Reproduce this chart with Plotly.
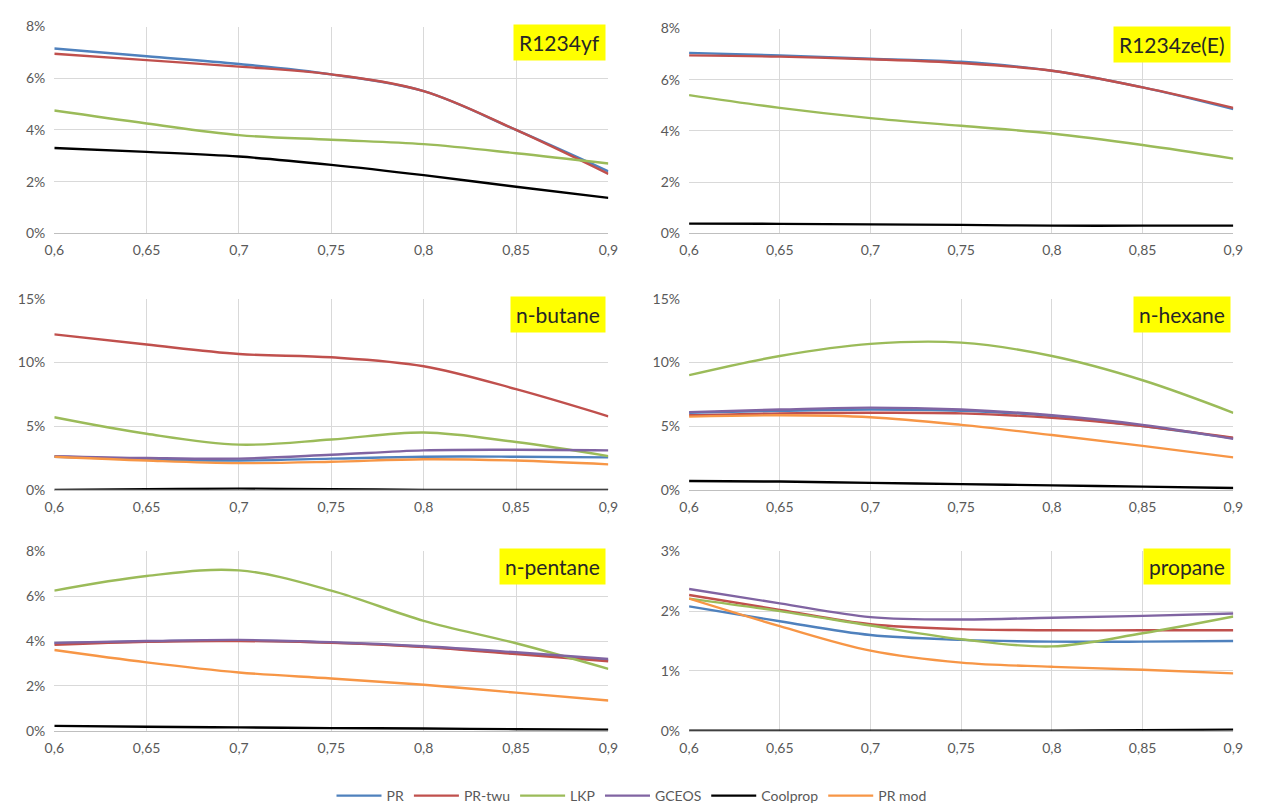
import plotly.graph_objects as go

x_vals = [0.6, 0.65, 0.7, 0.75, 0.8, 0.85, 0.9]
x_ticktext = ["0,6", "0,65", "0,7", "0,75", "0,8", "0,85", "0,9"]

series_names = ["PR", "PR-twu", "LKP", "GCEOS", "Coolprop", "PR mod"]
series_colors = ["#4F81BD", "#C0504D", "#9BBB59", "#8064A2", "#000000", "#F79646"]

# values in %
r1234yf_PR = [7.15, 6.85, 6.55, 6.15, 5.5, 4.0, 2.4]
r1234yf_PRtwu = [6.95, 6.7, 6.45, 6.15, 5.5, 4.0, 2.3]
r1234yf_LKP = [4.75, 4.25, 3.8, 3.62, 3.45, 3.1, 2.7]
r1234yf_Coolprop = [3.3, 3.15, 2.97, 2.65, 2.25, 1.8, 1.37]

r1234ze_PR = [7.05, 6.95, 6.82, 6.7, 6.35, 5.7, 4.85]
r1234ze_PRtwu = [6.95, 6.9, 6.8, 6.65, 6.35, 5.7, 4.9]
r1234ze_LKP = [5.4, 4.9, 4.5, 4.2, 3.9, 3.45, 2.92]
r1234ze_Coolprop = [0.38, 0.37, 0.35, 0.33, 0.3, 0.3, 0.3]

butane_PR = [2.6, 2.4, 2.3, 2.45, 2.6, 2.6, 2.55]
butane_PRtwu = [12.2, 11.4, 10.66, 10.4, 9.7, 7.9, 5.77]
butane_LKP = [5.7, 4.4, 3.55, 3.95, 4.5, 3.75, 2.65]
butane_GCEOS = [2.65, 2.5, 2.45, 2.75, 3.1, 3.15, 3.1]
butane_Coolprop = [0.0, 0.05, 0.1, 0.05, 0.0, 0.0, 0.0]
butane_PRmod = [2.6, 2.3, 2.1, 2.2, 2.4, 2.3, 2.0]

hexane_PR = [6.05, 6.2, 6.3, 6.2, 5.8, 5.0, 4.05]
hexane_PRtwu = [5.85, 6.0, 6.05, 6.0, 5.65, 5.0, 4.1]
hexane_LKP = [9.0, 10.5, 11.45, 11.55, 10.5, 8.6, 6.05]
hexane_GCEOS = [6.1, 6.3, 6.45, 6.3, 5.85, 5.1, 4.0]
hexane_Coolprop = [0.7, 0.65, 0.55, 0.45, 0.35, 0.25, 0.15]
hexane_PRmod = [5.75, 5.85, 5.7, 5.1, 4.3, 3.45, 2.55]

pentane_PR = [3.9, 3.98, 4.02, 3.93, 3.75, 3.45, 3.15]
pentane_PRtwu = [3.83, 3.97, 4.0, 3.92, 3.73, 3.42, 3.1]
pentane_LKP = [6.25, 6.9, 7.15, 6.25, 4.9, 3.9, 2.76]
pentane_GCEOS = [3.92, 4.0, 4.05, 3.95, 3.77, 3.5, 3.2]
pentane_Coolprop = [0.22, 0.18, 0.15, 0.12, 0.1, 0.07, 0.05]
pentane_PRmod = [3.6, 3.05, 2.6, 2.33, 2.05, 1.7, 1.35]

propane_PR = [2.08, 1.83, 1.6, 1.52, 1.49, 1.49, 1.5]
propane_PRtwu = [2.27, 2.02, 1.78, 1.7, 1.68, 1.68, 1.68]
propane_LKP = [2.21, 2.0, 1.76, 1.53, 1.41, 1.63, 1.91]
propane_GCEOS = [2.37, 2.13, 1.9, 1.86, 1.89, 1.92, 1.96]
propane_Coolprop = [0.0, 0.0, 0.0, 0.0, 0.0, 0.01, 0.02]
propane_PRmod = [2.21, 1.75, 1.34, 1.14, 1.07, 1.02, 0.96]

panel_titles = ["R1234yf", "R1234ze(E)", "n-butane", "n-hexane", "n-pentane", "propane"]
panel_series = [
    [r1234yf_PR, r1234yf_PRtwu, r1234yf_LKP, None, r1234yf_Coolprop, None],
    [r1234ze_PR, r1234ze_PRtwu, r1234ze_LKP, None, r1234ze_Coolprop, None],
    [butane_PR, butane_PRtwu, butane_LKP, butane_GCEOS, butane_Coolprop, butane_PRmod],
    [hexane_PR, hexane_PRtwu, hexane_LKP, hexane_GCEOS, hexane_Coolprop, hexane_PRmod],
    [pentane_PR, pentane_PRtwu, pentane_LKP, pentane_GCEOS, pentane_Coolprop, pentane_PRmod],
    [propane_PR, propane_PRtwu, propane_LKP, propane_GCEOS, propane_Coolprop, propane_PRmod],
]
y_ticks = [
    [0, 2, 4, 6, 8],
    [0, 2, 4, 6, 8],
    [0, 5, 10, 15],
    [0, 5, 10, 15],
    [0, 2, 4, 6, 8],
    [0, 1, 2, 3],
]

W, H = 1263, 812
# pixel boxes (left, right, top, bottom)
boxes = [
    (45, 608, 18, 230),
    (690, 1243, 20, 230),
    (45, 608, 297, 493),
    (690, 1243, 297, 493),
    (45, 608, 556, 740),
    (690, 1243, 556, 740),
]

fig = go.Figure()
font_fam = "Lato, 'Liberation Sans', sans-serif"
tick_color = "#595959"

for i in range(6):
    ax = "" if i == 0 else str(i + 1)
    for j, vals in enumerate(panel_series[i]):
        if vals is None:
            continue
        fig.add_trace(go.Scatter(
            x=x_vals, y=vals, mode="lines",
            line=dict(color=series_colors[j], width=2.4, shape="spline", smoothing=1.0),
            name=series_names[j], legendgroup=series_names[j],
            showlegend=(i == 2),
            xaxis="x" + ax, yaxis="y" + ax,
        ))
    l, r, t, b = boxes[i]
    yt = y_ticks[i]
    fig.layout["xaxis" + ax] = dict(
        domain=[l / W, r / W], anchor="y" + ax, range=[0.6, 0.9],
        tickvals=x_vals, ticktext=x_ticktext, showgrid=True, gridcolor="#D9D9D9",
        gridwidth=1, showline=True, linecolor="#BFBFBF", linewidth=1,
        zeroline=False, ticks="", ticklabelstandoff=4,
        tickfont=dict(size=14, color=tick_color, family=font_fam),
        fixedrange=True,
    )
    fig.layout["yaxis" + ax] = dict(
        domain=[1 - b / H, 1 - t / H], anchor="x" + ax, range=[yt[0], yt[-1]],
        tickvals=yt, ticktext=[f"{v}%" for v in yt], showgrid=True, gridcolor="#D9D9D9",
        gridwidth=1, zeroline=False, showline=False, ticks="", ticklabelstandoff=8,
        tickfont=dict(size=14, color=tick_color, family=font_fam), fixedrange=True,
    )
    fig.add_annotation(
        x=r / W - 0.002, y=1 - (t - 3) / H, xref="paper", yref="paper",
        xanchor="right", yanchor="top", text=panel_titles[i], showarrow=False,
        bgcolor="#FFFF00", font=dict(size=21, color="#262626", family=font_fam),
        borderpad=5,
    )

fig.update_layout(
    width=W, height=H, autosize=False,
    margin=dict(l=0, r=0, t=0, b=0),
    paper_bgcolor="white", plot_bgcolor="white",
    legend=dict(orientation="h", x=0.5, xanchor="center", y=-0.014, yanchor="bottom",
                font=dict(size=14, color=tick_color, family=font_fam),
                itemwidth=45, traceorder="normal", tracegroupgap=0),
    showlegend=True,
)
fig.write_html("out.html")
